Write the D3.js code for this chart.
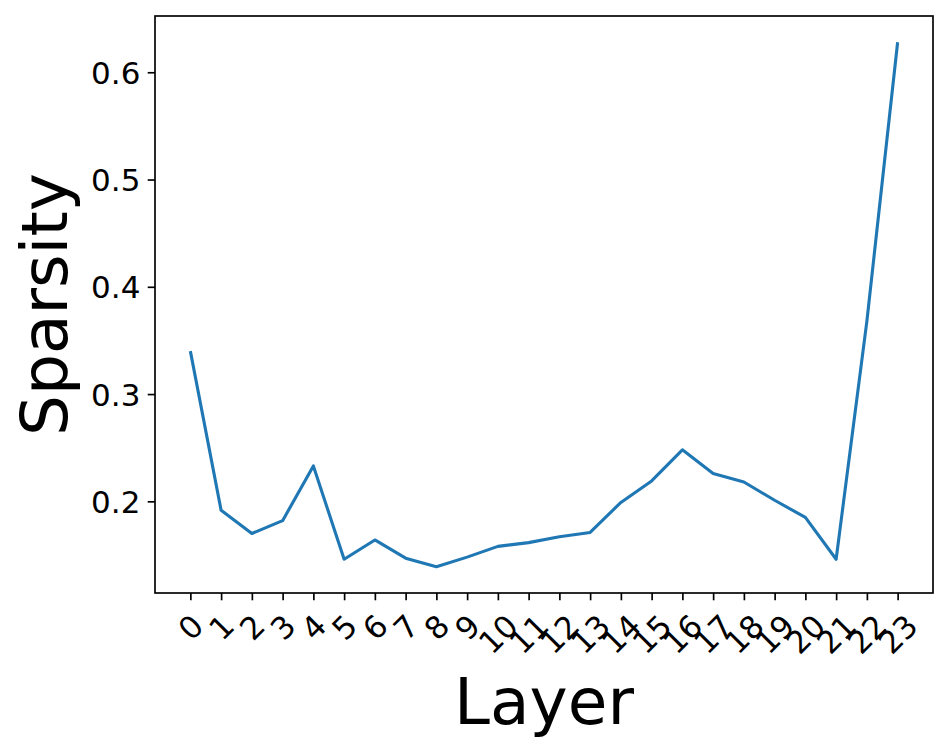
<!DOCTYPE html>
<html>
<head>
<meta charset="utf-8">
<script src="https://cdn.jsdelivr.net/npm/d3@7/dist/d3.min.js"></script>
<style>
  html, body { margin: 0; padding: 0; background: #fff; }
  svg { display: block; }
  text { font-family: "DejaVu Sans", sans-serif; fill: #000; }
</style>
</head>
<body>
<svg id="chart" width="948" height="749"></svg>
<script>
const layers = [0,1,2,3,4,5,6,7,8,9,10,11,12,13,14,15,16,17,18,19,20,21,22,23];
const sparsity = [0.340, 0.1916, 0.170, 0.182, 0.233, 0.146, 0.164, 0.147, 0.139, 0.148,
                  0.158, 0.1615, 0.167, 0.171, 0.199, 0.219, 0.248, 0.226, 0.218, 0.201,
                  0.185, 0.146, 0.368, 0.628];
const yTicks = [0.2, 0.3, 0.4, 0.5, 0.6];
const xLabel = "Layer";
const yLabel = "Sparsity";

const W = 948, H = 749;
const m = { left: 155, right: 933, top: 16, bottom: 593 };
const tickFont = 31, labelFont = 64.5, tickLen = 7.3, pad = 7.3;

const svg = d3.select("#chart");

const xMin = d3.min(layers), xMax = d3.max(layers);
const xPad = (xMax - xMin) * 0.05;
const x = d3.scaleLinear().domain([xMin - xPad, xMax + xPad]).range([m.left, m.right]);
const yMin = d3.min(sparsity), yMax = d3.max(sparsity);
const yPad = (yMax - yMin) * 0.05;
const y = d3.scaleLinear().domain([yMin - yPad, yMax + yPad]).range([m.bottom, m.top]);

// line
const line = d3.line().x((d, i) => x(layers[i])).y(d => y(d));
svg.append("path")
  .datum(sparsity)
  .attr("d", line)
  .attr("fill", "none")
  .attr("stroke", "#1f77b4")
  .attr("stroke-width", 3.1)
  .attr("stroke-linejoin", "round")
  .attr("stroke-linecap", "butt");

// frame
svg.append("rect")
  .attr("x", m.left).attr("y", m.top)
  .attr("width", m.right - m.left).attr("height", m.bottom - m.top)
  .attr("fill", "none").attr("stroke", "#000").attr("stroke-width", 1.67);

// x axis
const xAxis = d3.axisBottom(x).tickValues(layers).tickSize(tickLen).tickPadding(pad).tickFormat(d3.format("d"));
const gx = svg.append("g").attr("transform", `translate(0,${m.bottom})`).call(xAxis);
gx.select(".domain").remove();
gx.selectAll(".tick line").attr("stroke", "#000").attr("stroke-width", 1.67);
const lineH = 1.164 * tickFont;
gx.selectAll(".tick text")
  .attr("font-size", tickFont)
  .attr("font-family", "DejaVu Sans")
  .attr("fill", "#000")
  .each(function() {
    const t = d3.select(this);
    const w = this.getComputedTextLength();
    const cy = tickLen + pad + (w + lineH) * Math.SQRT1_2 / 2;
    t.attr("text-anchor", "middle")
     .attr("y", cy).attr("x", 0)
     .attr("dy", "0.346em")
     .attr("transform", `rotate(-45,0,${cy})`);
  });

// y axis
const yAxis = d3.axisLeft(y).tickValues(yTicks).tickSize(tickLen).tickPadding(pad).tickFormat(d3.format(".1f"));
const gy = svg.append("g").attr("transform", `translate(${m.left},0)`).call(yAxis);
gy.select(".domain").remove();
gy.selectAll(".tick line").attr("stroke", "#000").attr("stroke-width", 1.67);
gy.selectAll(".tick text")
  .attr("font-size", tickFont)
  .attr("font-family", "DejaVu Sans")
  .attr("fill", "#000")
  .attr("dy", "0.36em");

// axis labels
svg.append("text")
  .attr("x", (m.left + m.right) / 2)
  .attr("y", 724)
  .attr("text-anchor", "middle")
  .attr("font-size", labelFont)
  .text(xLabel);

svg.append("text")
  .attr("transform", `translate(67,${(m.top + m.bottom) / 2}) rotate(-90)`)
  .attr("text-anchor", "middle")
  .attr("font-size", labelFont)
  .text(yLabel);
</script>
</body>
</html>
